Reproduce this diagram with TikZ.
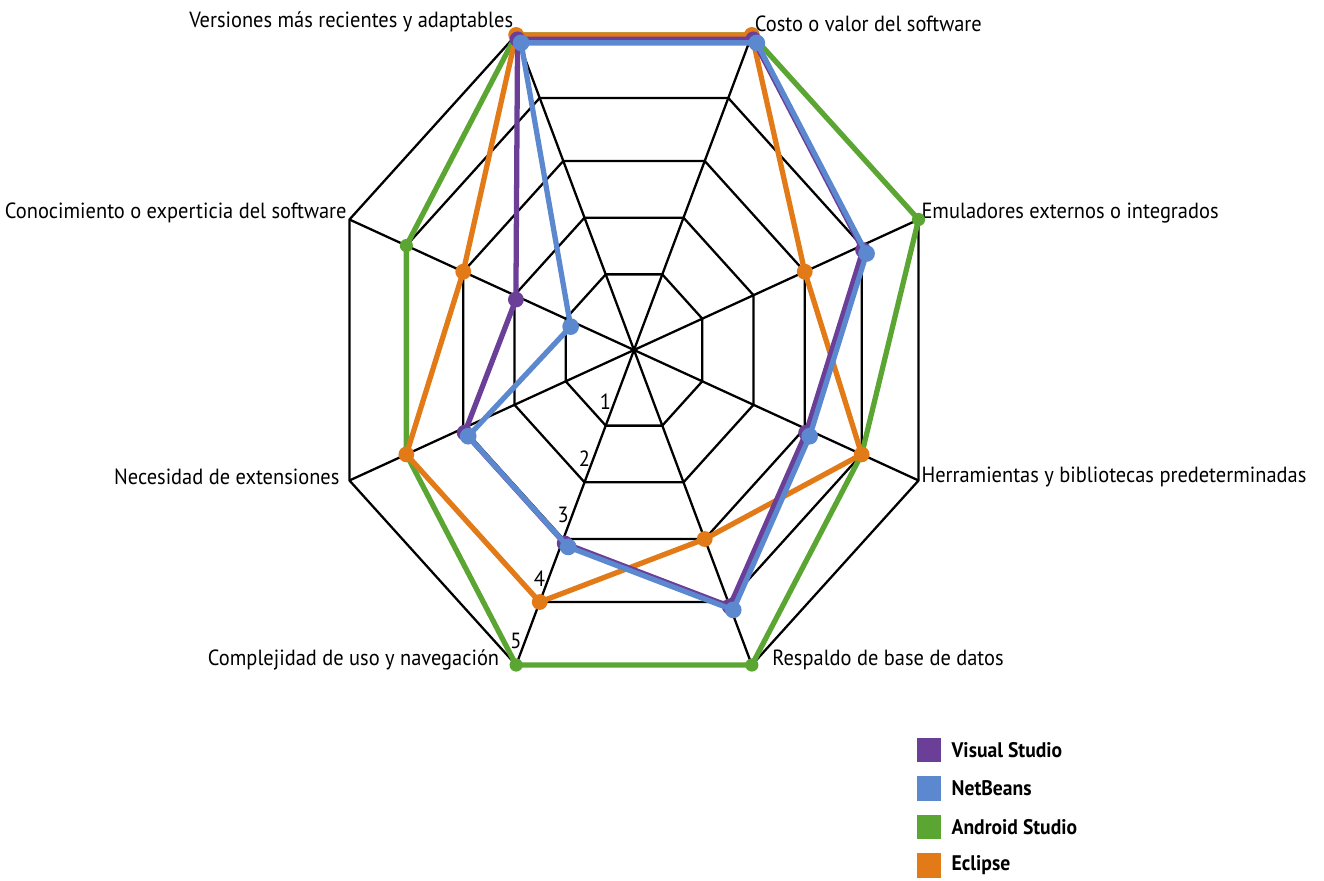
\documentclass[tikz,border=0pt]{standalone}
\usepackage{fontspec}
\setmainfont{PT Sans}[FakeStretch=0.93]
\usetikzlibrary{positioning, calc}
\definecolor{vstudio}{HTML}{6B3F98}
\definecolor{netbeans}{HTML}{5B88CF}
\definecolor{astudio}{HTML}{5BA632}
\definecolor{eclipse}{HTML}{E27B17}

\begin{document}
\begin{tikzpicture}[
    x=0.02cm, y=0.02cm,
    every node/.style={font=\fontsize{12.5}{14}\selectfont},
    web/.style={black, line width=1.3pt, line join=miter},
    serie/.style={#1, line width=3pt, line join=round},
    dot/.style={circle, fill=#1, inner sep=0pt, minimum size=9.5pt},
    lbl/.style={inner sep=1.5pt},
    scalelbl/.style={inner sep=0pt},
    legsq/.style={rectangle, fill=#1, inner sep=0pt, minimum size=14pt},
    legtext/.style={font=\bfseries\fontsize{12}{14}\selectfont, inner sep=1pt},
]

% ===== Canvas =====
\fill[white] (0,0) rectangle (1324,880);
\coordinate (c) at (634,530);

% ===== Web: 5 levels, 8 axes =====
\foreach \lev/\r in {1/0.24, 2/0.42, 3/0.6, 4/0.8, 5/1}
    \foreach \ax in {1,...,8}
        \coordinate (w\lev-\ax) at ($(c)+({67.5-45*(\ax-1)}:{308*\r} and {341*\r})$);

\foreach \lev in {1,...,5}
    \draw[web] (w\lev-1) \foreach \ax in {2,...,8} {-- (w\lev-\ax)} -- cycle;
\foreach \ax in {1,...,8}
    \draw[web] (c) -- (w5-\ax);

% Scale numbers along the lower left axis
\foreach \lev/\r in {1/0.24, 2/0.42, 3/0.6, 4/0.8, 5/1}
    \node[scalelbl] (n\lev) at ($(c)+(-112.5:{308*(\r-0.075)} and {341*(\r-0.075)})+(-9,0)$) {\lev};

% ===== Axis labels =====
\node[lbl, anchor=south west] (l1) at (w5-1) {Costo o valor del software};
\node[lbl, anchor=west, yshift=3.5pt] (l2) at (w5-2) {Emuladores externos o integrados};
\node[lbl, anchor=west, yshift=2pt] (l3) at (w5-3) {Herramientas y bibliotecas predeterminadas};
\node[lbl, anchor=west, xshift=10pt, yshift=3pt] (l4) at (w5-4) {Respaldo de base de datos};
\node[lbl, anchor=east, xshift=-8pt, yshift=3pt] (l5) at (w5-5) {Complejidad de uso y navegación};
\node[lbl, anchor=east, xshift=-4pt, yshift=2pt] (l6) at (w5-6) {Necesidad de extensiones};
\node[lbl, anchor=east, yshift=3.5pt] (l7) at (w5-7) {Conocimiento o experticia del software};
\node[lbl, anchor=south east] (l8) at (w5-8) {Versiones más recientes y adaptables};

% ===== Series =====
\foreach \sname/\col/\vals/\dx/\dy/\ds in {
        as/astudio/{5,5,4,5,5,4,4,5}/0/0/7.5,
        ec/eclipse/{5,3,4,3,4,4,3,5}/0/0/9,
        vs/vstudio/{5,4,3,4,3,3,2,5}/0.8/-2.5/9,
        nb/netbeans/{5,4,3,4,3,3,1,5}/2.8/-4.5/9.5} {
    \foreach \v [count=\ax] in \vals
        \node[dot=\col, minimum size=\ds pt, xshift=\dx pt, yshift=\dy pt] (\sname-\ax) at (w\v-\ax) {};
    \draw[serie=\col] (\sname-1.center) \foreach \ax in {2,...,8} {-- (\sname-\ax.center)} -- cycle;
}

% ===== Legend =====
\node[legsq=vstudio] (sq-vs) at (929,130) {};
\node[legsq=netbeans] (sq-nb) at (929,91.5) {};
\node[legsq=astudio] (sq-as) at (929,53) {};
\node[legsq=eclipse] (sq-ec) at (929,14.5) {};
\node[legtext, right=4.5pt of sq-vs] (t-vs) {Visual Studio};
\node[legtext, right=4.5pt of sq-nb] (t-nb) {NetBeans};
\node[legtext, right=4.5pt of sq-as] (t-as) {Android Studio};
\node[legtext, right=4.5pt of sq-ec] (t-ec) {Eclipse};

\end{tikzpicture}
\end{document}
